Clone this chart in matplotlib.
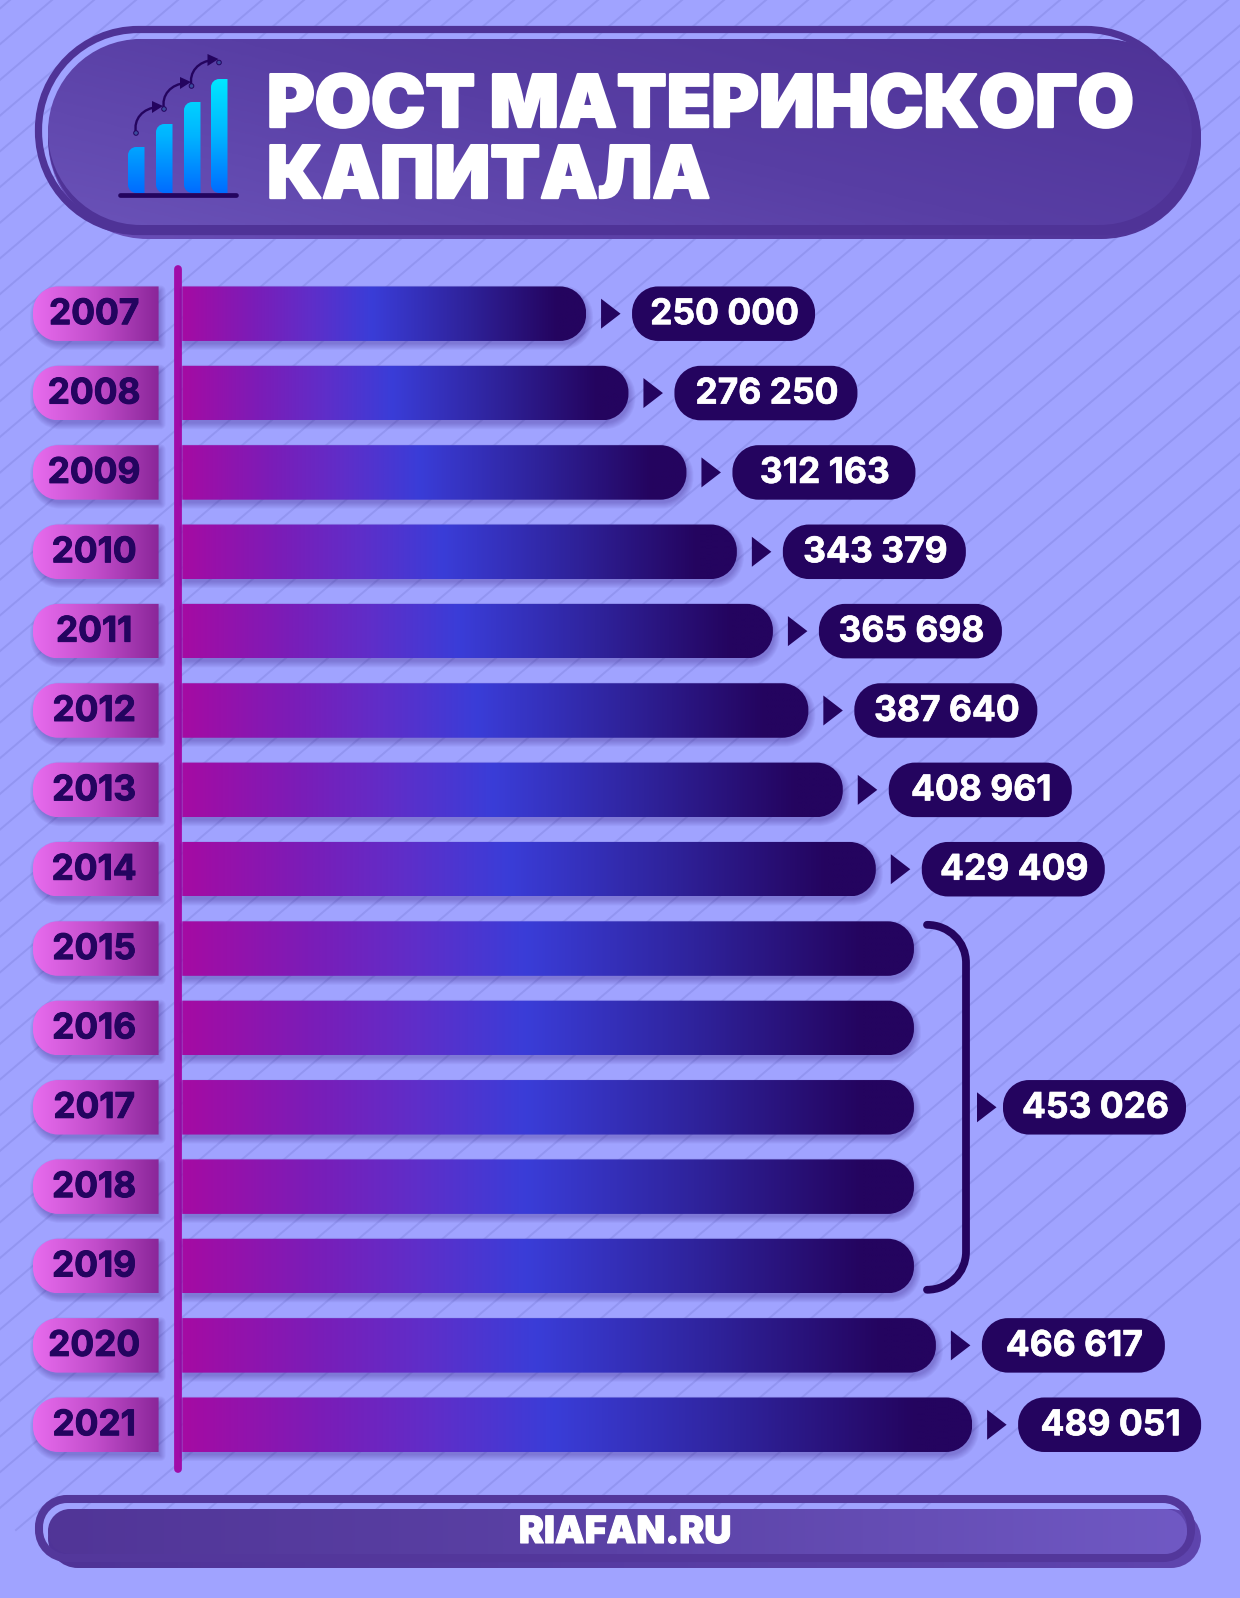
"""
Рост материнского капитала -- infographic redrawn with matplotlib.
"""

import numpy as np
import matplotlib
matplotlib.use("Agg")
import matplotlib.pyplot as plt
import matplotlib.patheffects as pe
from matplotlib.colors import LinearSegmentedColormap
from matplotlib.patches import PathPatch, Polygon, Circle
from matplotlib.path import Path

W, H = 1240, 1598

YEARS = [2007, 2008, 2009, 2010, 2011, 2012, 2013, 2014,
         2015, 2016, 2017, 2018, 2019, 2020, 2021]
VALUES = [250000, 276250, 312163, 343379, 365698, 387640, 408961, 429409,
          453026, 453026, 453026, 453026, 453026, 466617, 489051]
GROUP_YEARS = [2015, 2016, 2017, 2018, 2019]   # one label, shown with a bracket
TITLE_LINES = ["РОСТ МАТЕРИНСКОГО", "КАПИТАЛА"]
SOURCE = "RIAFAN.RU"

BG = "#A0A3FF"
STRIPE = "#9295F1"
INK = "#24045F"
AXIS_COL = "#A00CA8"
FONT = "Inter"

# value -> pixel mapping
X0 = 182.3
PX_PER_RUB = 0.001615
ROW0 = 313.7
ROW_STEP = 79.36
BAR_H = 54.5

bar_cmap = LinearSegmentedColormap.from_list("bar", [
    (0.0, "#A50BA3"), (0.18, "#7A1DB8"), (0.32, "#5F2EC9"), (0.47, "#3A3DD8"),
    (0.70, "#2F239C"), (0.93, "#24045F"), (1.0, "#24045F")])
year_cmap = LinearSegmentedColormap.from_list("year", ["#E86CEE", "#C24DCB", "#8A2699"])
icon_cmap = LinearSegmentedColormap.from_list("icon", ["#00E6FF", "#00B4FF", "#006CFF"])


def rounded_path(x0, y0, x1, y1, left, right, sx=1.0, sy=1.0):
    """Closed box with round corners. Radii in px, sx/sy turn px into the axes' units."""
    k = 0.5523
    lx, ly = left * sx, left * sy
    rx, ry = right * sx, right * sy
    verts = [
        (x0 + lx, y0), (x1 - rx, y0),
        (x1 - rx + k * rx, y0), (x1, y0 + ry - k * ry), (x1, y0 + ry),
        (x1, y1 - ry),
        (x1, y1 - ry + k * ry), (x1 - rx + k * rx, y1), (x1 - rx, y1),
        (x0 + lx, y1),
        (x0 + lx - k * lx, y1), (x0, y1 - ly + k * ly), (x0, y1 - ly),
        (x0, y0 + ly),
        (x0, y0 + ly - k * ly), (x0 + lx - k * lx, y0), (x0 + lx, y0),
        (x0 + lx, y0),
    ]
    c4 = Path.CURVE4
    codes = [Path.MOVETO, Path.LINETO, c4, c4, c4, Path.LINETO, c4, c4, c4,
             Path.LINETO, c4, c4, c4, Path.LINETO, c4, c4, c4, Path.CLOSEPOLY]
    return Path(verts, codes)


def gradient_box(ax, path, extent, cmap, angle=None, z=2):
    """Fill a path with a horizontal gradient, or a slanted one if an angle is given."""
    if angle is None:
        t = np.linspace(0, 1, 512)[None, :]
    else:
        yy, xx = np.mgrid[0:1:64j, 0:1:256j]
        t = (xx * np.cos(angle) + yy * np.sin(angle))
        t = (t - t.min()) / (t.max() - t.min())
    im = ax.imshow(t, cmap=cmap, extent=extent, aspect="auto", vmin=0, vmax=1,
                   interpolation="bilinear", zorder=z)
    im.set_clip_path(PathPatch(path, transform=ax.transData))
    return im


def soft_shadow(ax, x0, y0, x1, y1, left, right, sx=1.0, sy=1.0, z=1):
    for grow in (6, 5, 4, 3, 2, 1, 0):
        g = grow - 1
        p = rounded_path(x0 - g * sx + 2 * sx, y0 - g * sy + 4 * sy,
                         x1 + g * sx + 2 * sx, y1 + g * sy + 4 * sy,
                         left + g, right + g, sx, sy)
        ax.add_patch(PathPatch(p, fc="#2A0A70", ec="none", alpha=0.045, zorder=z))


def heavier(width, color):
    return [pe.withStroke(linewidth=width, foreground=color)]


fig = plt.figure(figsize=(W / 100, H / 100), dpi=100)
fig.patch.set_facecolor(BG)

# pixel axes for everything decorative
ax = fig.add_axes([0, 0, 1, 1], zorder=0)
ax.axis("off")

# diagonal hatching of the background
for c in np.arange(-200, W + 1500, 42.0):
    ax.plot([c, c - 1800], [0, 1800 * 0.85], color=STRIPE, lw=1.4, zorder=0.5)

# header: shifted back pill, outline, dark lip, then the face
head_back = LinearSegmentedColormap.from_list("hb", ["#6A4FB8", "#4F3397"])
head_fill = LinearSegmentedColormap.from_list("hf", ["#6A52B8", "#583EA4", "#4F3397"])
gradient_box(ax, rounded_path(48, 39, 1201, 239, 100, 100), (48, 1201, 239, 39), head_back, z=1)
ax.add_patch(PathPatch(rounded_path(38.5, 29.5, 1186, 231.5, 100, 100),
                       fc="none", ec="#4F3397", lw=5.2, zorder=1.1))
ax.add_patch(PathPatch(rounded_path(48, 39, 1201, 235, 98, 98), fc="#4F3397", ec="none", zorder=1.15))
gradient_box(ax, rounded_path(48, 39, 1192, 225, 93, 93), (48, 1192, 225, 39), head_fill,
             angle=-0.6, z=1.2)

# header icon
ICON_LEFT = [128, 156, 184, 211]
ICON_TOP = [147, 124, 102, 79]
ICON_W = 16.5
ICON_BASE = 192
for left, top in zip(ICON_LEFT, ICON_TOP):
    t = np.linspace((top - 79) / 113, 1, 128)[:, None]
    im = ax.imshow(t, cmap=icon_cmap, vmin=0, vmax=1, aspect="auto", zorder=3,
                   extent=(left, left + ICON_W, ICON_BASE + 1, top))
    p = rounded_path(left, top, left + ICON_W, ICON_BASE + 1, 8.2, 0.1)
    im.set_clip_path(PathPatch(p, transform=ax.transData))
ax.plot([120, 236], [195, 195], color=INK, lw=3.4, solid_capstyle="round", zorder=3)
HOP_START = [(136, 133), (164, 109), (191.5, 86)]
for sx_, sy_ in HOP_START:
    hop = Path([(sx_, sy_), (sx_ - 3, sy_ - 14), (sx_ + 7, sy_ - 25), (sx_ + 22, sy_ - 26)],
               [Path.MOVETO, Path.CURVE4, Path.CURVE4, Path.CURVE4])
    ax.add_patch(PathPatch(hop, fc="none", ec=INK, lw=1.7, zorder=3.2))
    ax.add_patch(Polygon([(sx_ + 16, sy_ - 32), (sx_ + 27, sy_ - 27), (sx_ + 16, sy_ - 20)],
                         closed=True, fc=INK, ec="none", zorder=3.2))
    ax.add_patch(Circle((sx_, sy_), 2.3, fc="#3A4C9C", ec=INK, lw=0.7, zorder=3.3))
ax.add_patch(Circle((219, 62.5), 2.3, fc="#3A4C9C", ec=INK, lw=0.7, zorder=3.3))

for line, base in zip(TITLE_LINES, (127, 198)):
    ax.text(267, base, line, color="white", fontsize=52.3, fontweight="black", family=FONT,
            ha="left", va="baseline", zorder=4, path_effects=heavier(1.7, "white"))

# footer
foot_fill = LinearSegmentedColormap.from_list("ff", ["#513597", "#5B42A6", "#7059C4"])
foot_back = LinearSegmentedColormap.from_list("fb", ["#4F3397", "#5F45AE"])
gradient_box(ax, rounded_path(48, 1509, 1201, 1568, 30, 30), (48, 1201, 1568, 1509), foot_back, z=1)
ax.add_patch(PathPatch(rounded_path(39, 1499, 1191, 1558, 28, 28), fc="none", ec="#53379B", lw=5.8, zorder=1.1))
gradient_box(ax, rounded_path(48, 1509, 1187, 1554, 22, 22), (48, 1187, 1554, 1509), foot_fill, z=1.2)
ax.text(625, 1543, SOURCE, color="white", fontsize=27, fontweight="black", family=FONT,
        ha="center", va="baseline", zorder=4, path_effects=heavier(0.8, "white"))

# vertical axis line
ax.plot([178, 178], [269, 1469], color=AXIS_COL, lw=5.6, solid_capstyle="round", zorder=2)

# year tabs and value labels, in pixels next to the bars
for yr, val in zip(YEARS, VALUES):
    yc = ROW0 + (yr - YEARS[0]) * ROW_STEP
    top, bot = yc - BAR_H / 2, yc + BAR_H / 2
    soft_shadow(ax, 33, top, 158.6, bot, 25, 0.1)
    gradient_box(ax, rounded_path(33, top, 158.6, bot, 25, 0.1), (33, 158.6, bot, top), year_cmap)
    ax.text(94, yc + 10.5, str(yr), color=INK, fontsize=25.4, fontweight="bold", family=FONT,
            ha="center", va="baseline", zorder=4, path_effects=heavier(0.7, INK))

    if yr in GROUP_YEARS and yr != GROUP_YEARS[len(GROUP_YEARS) // 2]:
        continue
    end = X0 + val * PX_PER_RUB
    tri_x, pill_x = end + 15, end + 46
    if yr in GROUP_YEARS:
        tri_x, pill_x = 977, 1003    # the label sits past the bracket
    ax.add_patch(Polygon([(tri_x, yc - 15), (tri_x + 19.5, yc), (tri_x, yc + 15)],
                         closed=True, fc=INK, ec="none", zorder=3))
    ax.add_patch(PathPatch(rounded_path(pill_x, top, pill_x + 183, bot, 26, 26), fc=INK, ec="none", zorder=3))
    ax.text(pill_x + 92.5, yc + 10.5, f"{val:,}".replace(",", " "), color="white", fontsize=25.5,
            fontweight="bold", family=FONT, ha="center", va="baseline", zorder=4,
            path_effects=heavier(0.5, "white"))

# bracket over the frozen years
top_row = ROW0 + (GROUP_YEARS[0] - YEARS[0]) * ROW_STEP - BAR_H / 2 + 3.5
bot_row = ROW0 + (GROUP_YEARS[-1] - YEARS[0]) * ROW_STEP + BAR_H / 2 - 3.5
bx0, bx1, br = 927, 966, 38
c4 = Path.CURVE4
bracket = Path([(bx0, top_row), (bx0 + 22, top_row), (bx1, top_row + 17), (bx1, top_row + br),
                (bx1, bot_row - br), (bx1, bot_row - 17), (bx0 + 22, bot_row), (bx0, bot_row)],
               [Path.MOVETO, c4, c4, c4, Path.LINETO, c4, c4, c4])
ax.add_patch(PathPatch(bracket, fc="none", ec=INK, lw=5.6, capstyle="round", zorder=3))

ax.set_xlim(0, W)
ax.set_ylim(H, 0)

# data axes on top: bars live in rubles and years
ax_bars = fig.add_axes([0, 0, 1, 1], zorder=1)
ax_bars.patch.set_alpha(0)
ax_bars.axis("off")
sx = 1 / PX_PER_RUB
sy = 1 / ROW_STEP
half = BAR_H / 2 * sy
for yr, val in zip(YEARS, VALUES):
    soft_shadow(ax_bars, 0, yr - half, val, yr + half, 0.1, 26, sx, sy)
    bar = rounded_path(0, yr - half, val, yr + half, 0.1, 26, sx, sy)
    gradient_box(ax_bars, bar, (0, val, yr + half, yr - half), bar_cmap)
ax_bars.set_xlim(-X0 * sx, (W - X0) * sx)
ax_bars.set_ylim(YEARS[0] + (H - ROW0) * sy, YEARS[0] - ROW0 * sy)

fig.savefig("out.png", dpi=100, facecolor=BG)
plt.close(fig)
